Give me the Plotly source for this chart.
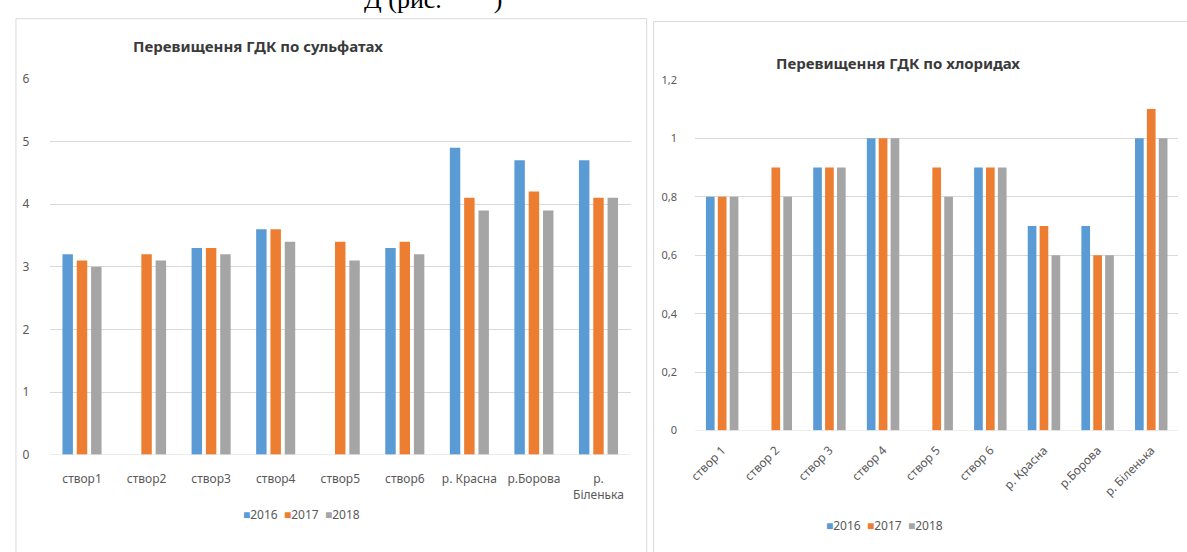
import plotly.graph_objects as go

# ---- data -------------------------------------------------------------
years = ["2016", "2017", "2018"]

sites_sulf = ["створ1", "створ2", "створ3", "створ4", "створ5", "створ6",
              "р. Красна", "р.Борова", "р.<br>Біленька"]
sulf_2016 = [3.2, None, 3.3, 3.6, None, 3.3, 4.9, 4.7, 4.7]
sulf_2017 = [3.1, 3.2, 3.3, 3.6, 3.4, 3.4, 4.1, 4.2, 4.1]
sulf_2018 = [3.0, 3.1, 3.2, 3.4, 3.1, 3.2, 3.9, 3.9, 4.1]

sites_chlor = ["створ 1", "створ 2", "створ 3", "створ 4", "створ 5", "створ 6",
               "р. Красна", "р.Борова", "р. Біленька"]
chlor_2016 = [0.8, None, 0.9, 1.0, None, 0.9, 0.7, 0.7, 1.0]
chlor_2017 = [0.8, 0.9, 0.9, 1.0, 0.9, 0.9, 0.7, 0.6, 1.1]
chlor_2018 = [0.8, 0.8, 0.9, 1.0, 0.8, 0.9, 0.6, 0.6, 1.0]

sulf_ticks = [0, 1, 2, 3, 4, 5, 6]
chlor_ticks = [0, 0.2, 0.4, 0.6, 0.8, 1.0, 1.2]

colors = ["#5B9BD5", "#ED7D31", "#A5A5A5"]

# ---- canvas helpers (pixel -> paper) ----------------------------------
W, H = 1187, 552


def px(x):
    return x / W


def py(y):
    return 1 - y / H


FONT = "Noto Sans"
GRID = "#D9D9D9"
TXT = "#595959"

fig = go.Figure()

for name, vals, col in zip(years, [sulf_2016, sulf_2017, sulf_2018], colors):
    fig.add_trace(go.Bar(x=sites_sulf, y=vals, name=name, marker_color=col,
                         marker_line_width=0, xaxis="x", yaxis="y",
                         showlegend=False))

for name, vals, col in zip(years, [chlor_2016, chlor_2017, chlor_2018], colors):
    fig.add_trace(go.Bar(x=sites_chlor, y=vals, name=name, marker_color=col,
                         marker_line_width=0, xaxis="x2", yaxis="y2",
                         showlegend=False))

axis_common = dict(showline=False, zeroline=False, fixedrange=True)

fig.update_layout(
    width=W, height=H,
    margin=dict(l=0, r=0, t=0, b=0),
    paper_bgcolor="white", plot_bgcolor="white",
    separators=", ",
    font=dict(family=FONT, color=TXT, size=12),
    barmode="group", bargap=0.335, bargroupgap=0.27,
    xaxis=dict(domain=[px(42), px(627)], anchor="y", showgrid=False,
               tickfont=dict(size=12, color=TXT), ticks="outside",
               ticklen=13, tickcolor="rgba(0,0,0,0)", **axis_common),
    yaxis=dict(domain=[py(460), py(72)], anchor="x", range=[0, 6],
               tickvals=sulf_ticks, showgrid=True, gridcolor=GRID,
               gridwidth=1, tickfont=dict(size=12, color=TXT),
               ticks="outside", ticklen=17, tickcolor="rgba(0,0,0,0)",
               **axis_common),
    xaxis2=dict(domain=[px(692), px(1178)], anchor="y2", showgrid=False,
                tickangle=-45, tickfont=dict(size=12, color=TXT),
                ticks="outside", ticklen=7, tickcolor="rgba(0,0,0,0)",
                **axis_common),
    yaxis2=dict(domain=[py(435), py(73)], anchor="x2", range=[0, 1.2],
                tickvals=chlor_ticks, showgrid=True, gridcolor=GRID,
                gridwidth=1, tickfont=dict(size=11, color=TXT),
                ticks="outside", ticklen=15, tickcolor="rgba(0,0,0,0)",
                **axis_common),
)

# chart-area frames
fig.add_shape(type="rect", xref="paper", yref="paper",
              x0=px(8), x1=px(643), y0=py(570), y1=py(10),
              line=dict(color=GRID, width=1), fillcolor="rgba(0,0,0,0)",
              layer="below")
fig.add_shape(type="rect", xref="paper", yref="paper",
              x0=px(650), x1=px(1215), y0=py(570), y1=py(13),
              line=dict(color=GRID, width=1), fillcolor="rgba(0,0,0,0)",
              layer="below")

# zero baselines
for yref, xd in (("y", "x"), ("y2", "x2")):
    fig.add_shape(type="line", xref=f"{xd} domain", yref=yref,
                  x0=0, x1=1, y0=0, y1=0, line=dict(color=GRID, width=1))

# chart titles
fig.add_annotation(text="<b>Перевищення ГДК по сульфатах</b>", xref="paper",
                   yref="paper", x=px(252), xanchor="center", y=py(38),
                   yanchor="middle", showarrow=False,
                   font=dict(family=FONT, size=15, color="#3A3A3A"))
fig.add_annotation(text="<b>Перевищення ГДК по хлоридах</b>", xref="paper",
                   yref="paper", x=px(896), xanchor="center", y=py(56),
                   yanchor="middle", showarrow=False,
                   font=dict(family=FONT, size=15, color="#3A3A3A"))

# legends: a coloured square followed by the series name
legend_text = "&nbsp;&nbsp;".join(
    f"<span style='color:{c}'>■</span>{y}" for y, c in zip(years, colors))
fig.add_annotation(text=legend_text, xref="paper", yref="paper",
                   x=px(295), xanchor="center", y=py(522), yanchor="middle",
                   showarrow=False, font=dict(family=FONT, size=12, color=TXT))
fig.add_annotation(text=legend_text, xref="paper", yref="paper",
                   x=px(882), xanchor="center", y=py(533), yanchor="middle",
                   showarrow=False, font=dict(family=FONT, size=12, color=TXT))

# line of body text above the figures (mostly out of frame)
fig.add_annotation(text="Д (рис.        )", xref="paper", yref="paper",
                   x=px(356), xanchor="left", y=py(-10), yanchor="middle",
                   showarrow=False,
                   font=dict(family="Liberation Serif", size=26, color="black"))

fig.write_html("out.html")
